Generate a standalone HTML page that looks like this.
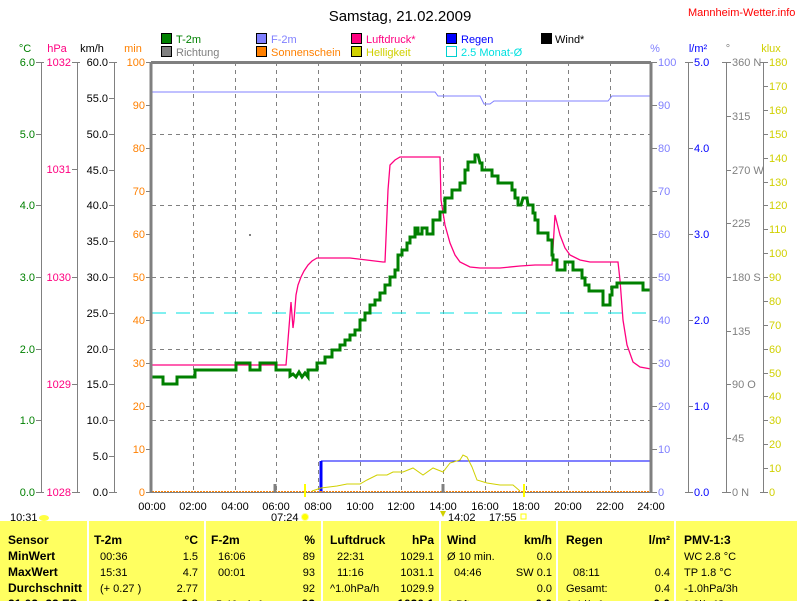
<!DOCTYPE html>
<html><head><meta charset="utf-8"><style>
html,body{margin:0;padding:0;background:#fff;}
svg{display:block;font-family:"Liberation Sans",sans-serif;}
.t{font-size:11px;}
.b{font-size:12px;font-weight:bold;}
</style></head><body>
<svg width="800" height="601" viewBox="0 0 800 601" xmlns="http://www.w3.org/2000/svg">
<text x="400" y="21" font-size="15" text-anchor="middle">Samstag, 21.02.2009</text>
<text x="688" y="16" font-size="11" fill="#f00">Mannheim-Wetter.info</text>
<!-- legend -->
<g class="t">
<rect x="161.5" y="33.5" width="10" height="10" fill="#008000" stroke="#000"/><text x="176" y="43" fill="#008000">T-2m</text>
<rect x="161.5" y="46.5" width="10" height="10" fill="#808080" stroke="#000"/><text x="176" y="56" fill="#808080">Richtung</text>
<rect x="256.5" y="33.5" width="10" height="10" fill="#8080ff" stroke="#000"/><text x="271" y="43" fill="#8080ff">F-2m</text>
<rect x="256.5" y="46.5" width="10" height="10" fill="#ff8000" stroke="#000"/><text x="271" y="56" fill="#ff8000">Sonnenschein</text>
<rect x="351.5" y="33.5" width="10" height="10" fill="#ff0080" stroke="#000"/><text x="366" y="43" fill="#ff0080">Luftdruck*</text>
<rect x="351.5" y="46.5" width="10" height="10" fill="#d0d000" stroke="#000"/><text x="366" y="56" fill="#d0d000">Helligkeit</text>
<rect x="446.5" y="33.5" width="10" height="10" fill="#0000ff" stroke="#000"/><text x="461" y="43" fill="#0000ff">Regen</text>
<rect x="446.5" y="46.5" width="10" height="10" fill="none" stroke="#00d0d0"/><text x="461" y="56" fill="#00e0e0">2.5 Monat-Ø</text>
<rect x="541.5" y="33.5" width="10" height="10" fill="#000" stroke="#000"/><text x="555" y="43" fill="#000">Wind*</text>
</g>
<!-- axis titles -->
<g class="t">
<text x="25" y="52" text-anchor="middle" fill="#008000">°C</text>
<text x="57" y="52" text-anchor="middle" fill="#ff0080">hPa</text>
<text x="92" y="52" text-anchor="middle">km/h</text>
<text x="133" y="52" text-anchor="middle" fill="#ff8000">min</text>
<text x="655" y="52" text-anchor="middle" fill="#8080ff">%</text>
<text x="698" y="52" text-anchor="middle" fill="#0000ff">l/m²</text>
<text x="728" y="52" text-anchor="middle" fill="#808080">°</text>
<text x="771" y="52" text-anchor="middle" fill="#d0d000">klux</text>
</g>
<!-- grid -->
<g stroke="#808080" stroke-dasharray="4,4" stroke-width="1">
<path d="M193.5 62V492M235.5 62V492M276.5 62V492M318.5 62V492M360.5 62V492M401.5 62V492M443.5 62V492M485.5 62V492M526.5 62V492M568.5 62V492M610.5 62V492"/>
<path d="M152 134.5H651M152 205.5H651M152 277.5H651M152 349.5H651M152 420.5H651"/>
</g>
<!-- axis lines -->
<g stroke="#808080" fill="none">
<path d="M41.5 62V492M77.5 62V492M114.5 62V492M688.5 62V492M726.5 62V492M763.5 62V492"/>
<path d="M36 62.5H44M36 134.5H41M36 205.5H41M36 277.5H41M36 349.5H41M36 420.5H41M36 492.5H44"/>
<path d="M72 62.5H80M72 169.5H77M72 277.5H77M72 384.5H77M72 492.5H80"/>
<path d="M109 62.5H117M109 98.5H114M109 134.5H114M109 170.5H114M109 205.5H114M109 241.5H114M109 277.5H114M109 313.5H114M109 349.5H114M109 384.5H114M109 420.5H114M109 456.5H114M109 492.5H117"/>
<path d="M146 62.5H152M146 105.5H152M146 148.5H152M146 191.5H152M146 234.5H152M146 277.5H152M146 320.5H152M146 363.5H152M146 406.5H152M146 449.5H152M146 492.5H152"/>
<path d="M651 62.5H657M651 105.5H657M651 148.5H657M651 191.5H657M651 234.5H657M651 277.5H657M651 320.5H657M651 363.5H657M651 406.5H657M651 449.5H657M651 492.5H657"/>
<path d="M685 62.5H693M688 148.5H693M688 234.5H693M688 320.5H693M688 406.5H693M685 492.5H693"/>
<path d="M722 62.5H731M726 116.5H731M726 170.5H731M726 223.5H731M726 277.5H731M726 331.5H731M726 384.5H731M726 438.5H731M722 492.5H731"/>
<path d="M760 62.5H768M763 86.5H768M763 110.5H768M763 134.5H768M763 158.5H768M763 182.5H768M763 205.5H768M763 229.5H768M763 253.5H768M763 277.5H768M763 301.5H768M763 325.5H768M763 349.5H768M763 373.5H768M763 396.5H768M763 420.5H768M763 444.5H768M763 468.5H768M760 492.5H768"/>
</g>
<!-- tick labels -->
<g class="t" text-anchor="end">
<g fill="#008000"><text x="35" y="66">6.0</text><text x="35" y="138">5.0</text><text x="35" y="209">4.0</text><text x="35" y="281">3.0</text><text x="35" y="353">2.0</text><text x="35" y="424">1.0</text><text x="35" y="496">0.0</text></g>
<g fill="#ff0080"><text x="71" y="66">1032</text><text x="71" y="173">1031</text><text x="71" y="281">1030</text><text x="71" y="388">1029</text><text x="71" y="496">1028</text></g>
<g fill="#000"><text x="108" y="66">60.0</text><text x="108" y="102">55.0</text><text x="108" y="138">50.0</text><text x="108" y="174">45.0</text><text x="108" y="209">40.0</text><text x="108" y="245">35.0</text><text x="108" y="281">30.0</text><text x="108" y="317">25.0</text><text x="108" y="353">20.0</text><text x="108" y="388">15.0</text><text x="108" y="424">10.0</text><text x="108" y="460">5.0</text><text x="108" y="496">0.0</text></g>
<g fill="#ff8000"><text x="145" y="66">100</text><text x="145" y="109">90</text><text x="145" y="152">80</text><text x="145" y="195">70</text><text x="145" y="238">60</text><text x="145" y="281">50</text><text x="145" y="324">40</text><text x="145" y="367">30</text><text x="145" y="410">20</text><text x="145" y="453">10</text><text x="145" y="496">0</text></g>
</g>
<g class="t">
<g fill="#8080ff"><text x="658" y="66">100</text><text x="658" y="109">90</text><text x="658" y="152">80</text><text x="658" y="195">70</text><text x="658" y="238">60</text><text x="658" y="281">50</text><text x="658" y="324">40</text><text x="658" y="367">30</text><text x="658" y="410">20</text><text x="658" y="453">10</text><text x="658" y="496">0</text></g>
<g fill="#0000ff"><text x="694" y="66">5.0</text><text x="694" y="152">4.0</text><text x="694" y="238">3.0</text><text x="694" y="324">2.0</text><text x="694" y="410">1.0</text><text x="694" y="496">0.0</text></g>
<g fill="#808080"><text x="732" y="66">360 N</text><text x="732" y="120">315</text><text x="732" y="174">270 W</text><text x="732" y="227">225</text><text x="732" y="281">180 S</text><text x="732" y="335">135</text><text x="732" y="388">90  O</text><text x="732" y="442">45</text><text x="732" y="496">0   N</text></g>
<g fill="#d0d000"><text x="769" y="66">180</text><text x="769" y="90">170</text><text x="769" y="114">160</text><text x="769" y="138">150</text><text x="769" y="162">140</text><text x="769" y="186">130</text><text x="769" y="209">120</text><text x="769" y="233">110</text><text x="769" y="257">100</text><text x="769" y="281">90</text><text x="769" y="305">80</text><text x="769" y="329">70</text><text x="769" y="353">60</text><text x="769" y="377">50</text><text x="769" y="400">40</text><text x="769" y="424">30</text><text x="769" y="448">20</text><text x="769" y="472">10</text><text x="769" y="496">0</text></g>
</g>
<!-- x labels -->
<g class="t" text-anchor="middle">
<text x="152" y="510">00:00</text><text x="193" y="510">02:00</text><text x="235" y="510">04:00</text><text x="276" y="510">06:00</text><text x="318" y="510">08:00</text><text x="360" y="510">10:00</text><text x="401" y="510">12:00</text><text x="443" y="510">14:00</text><text x="485" y="510">16:00</text><text x="526" y="510">18:00</text><text x="568" y="510">20:00</text><text x="610" y="510">22:00</text><text x="651" y="510">24:00</text>
</g>
<g class="t">
<text x="10" y="521">10:31</text><ellipse cx="44" cy="518" rx="5" ry="3" fill="#ffff40"/>
<text x="271" y="521">07:24</text><circle cx="305" cy="517" r="3.5" fill="#ffff00" stroke="#ffff90"/>
<text x="448" y="521">14:02</text><path d="M440 511l3 6 3-6z" fill="#d0d000"/>
<text x="489" y="521">17:55</text><rect x="521" y="514" width="5" height="5" fill="none" stroke="#ffff00"/>
</g>
<!-- series -->
<path d="M152 92H435L438 96H480L484 104H490L494 101H608L612 96H651" fill="none" stroke="#8080ff"/>
<path d="M152 313H651" stroke="#00e0e0" stroke-dasharray="14,10"/>
<rect x="249" y="234" width="2" height="2" fill="#808080"/>
<path d="M321 461H651" stroke="#0000ff" fill="none"/>
<path d="M321 492V461" stroke="#0000ff" stroke-width="3"/>
<path d="M152 491.5H651" stroke="#ff8000" stroke-dasharray="2,1"/>
<path d="M152 492.5H651" stroke="#808080"/>
<path d="M312 491L321 488L337 486L347 484L360 484L367 480L377 475L387 475L393 472L403 472L413 468L423 475L433 468L443 472L450 463L460 460L463 455L467 457L472 467L477 480L487 483L500 485L513 485L520 491" fill="none" stroke="#d0d000"/>
<path d="M275 484V492M443 484V492" stroke="#808080" stroke-width="3"/>
<path d="M305 484V497M524 484V497" stroke="#ffff00" stroke-width="2"/>
<path d="M152 365H286L288 340L291 302L293 328L294 320L296 295L298 285L301 277L304 271L308 265L312 261L317 258H350L383 262H385L388 190L390 165L395 160L400 157H440L441 200L445 225L450 243L455 255L460 262L470 267L480 268H500L520 266L535 265L552 265L555 215L560 235L565 248L570 255L580 260L590 262H618L620 280L623 320L627 345L633 362L640 367L651 369" fill="none" stroke="#ff0080" stroke-width="1.3"/>
<path d="M152 377H163V384H177V377H195V370H236V363H250V370H260V363H276V370H290V376L293 374L296 377L299 372L302 377L305 373L308 377V370H317V363H325V357H332V350H340V345H345V340H350V335H355V330H360V320H365V313H370V305H375V300H380V293H385V285H390V277H395V270H398V255H402V250H407V243H410V237H415V228H418V234H422V228H427V234H433V220H440V212H445V198H452V190H460V183H465V170H468V162H475V155H478L480 163H482V170H492V176H498V183H512V190H515V198H518V205H521L523 198H527L528 205H533V213H535V220H538V233H548V240H552V255H553V260H557V270H565V262H573V270H582V278H585V285H589V291H603V305H610V295H612V287H617V283H643V290H651" fill="none" stroke="#008000" stroke-width="3"/>
<!-- plot frame -->
<path d="M151 62V493M651 62V493M151 62.5H651" stroke="#808080" stroke-width="3" fill="none"/>
<!-- table -->
<rect x="0" y="521" width="797" height="80" fill="#ffff60"/>
<path d="M88 521V601M205 521V601M322 521V601M440 521V601M557 521V601M675 521V601" stroke="#fff" stroke-width="2"/>
<g class="b">
<text x="8" y="544">Sensor</text><text x="8" y="560">MinWert</text><text x="8" y="576">MaxWert</text><text x="8" y="592">Durchschnitt</text><text x="8" y="608">21.02.-22 FS</text>
<text x="94" y="544">T-2m</text><text x="198" y="544" text-anchor="end">°C</text>
<text x="211" y="544">F-2m</text><text x="315" y="544" text-anchor="end">%</text>
<text x="330" y="544">Luftdruck</text><text x="434" y="544" text-anchor="end">hPa</text>
<text x="447" y="544">Wind</text><text x="552" y="544" text-anchor="end">km/h</text>
<text x="566" y="544">Regen</text><text x="670" y="544" text-anchor="end">l/m²</text>
<text x="684" y="544">PMV-1:3</text>
<text x="198" y="608" text-anchor="end">2.8</text><text x="315" y="608" text-anchor="end">92</text><text x="434" y="608" text-anchor="end">1030.1</text><text x="552" y="608" text-anchor="end">0.0</text><text x="670" y="608" text-anchor="end">0.0</text>
</g>
<g class="t">
<text x="100" y="560">00:36</text><text x="198" y="560" text-anchor="end">1.5</text>
<text x="100" y="576">15:31</text><text x="198" y="576" text-anchor="end">4.7</text>
<text x="100" y="592">(+ 0.27 )</text><text x="198" y="592" text-anchor="end">2.77</text>
<text x="218" y="560">16:06</text><text x="315" y="560" text-anchor="end">89</text>
<text x="218" y="576">00:01</text><text x="315" y="576" text-anchor="end">93</text>
<text x="315" y="592" text-anchor="end">92</text>
<text x="216" y="608">5.46 g/m³</text>
<text x="337" y="560">22:31</text><text x="434" y="560" text-anchor="end">1029.1</text>
<text x="337" y="576">11:16</text><text x="434" y="576" text-anchor="end">1031.1</text>
<text x="330" y="592">^1.0hPa/h</text><text x="434" y="592" text-anchor="end">1029.9</text>
<text x="447" y="560">Ø 10 min.</text><text x="552" y="560" text-anchor="end">0.0</text>
<text x="454" y="576">04:46</text><text x="552" y="576" text-anchor="end">SW 0.1</text>
<text x="552" y="592" text-anchor="end">0.0</text>
<text x="447" y="608">0 Bft</text>
<text x="573" y="576">08:11</text><text x="670" y="576" text-anchor="end">0.4</text>
<text x="566" y="592">Gesamt:</text><text x="670" y="592" text-anchor="end">0.4</text>
<text x="566" y="608">0.4 l/m²</text>
<text x="684" y="560">WC 2.8 °C</text>
<text x="684" y="576">TP 1.8 °C</text>
<text x="684" y="592">-1.0hPa/3h</text>
<text x="684" y="608">0.0l/m²/h</text>
</g>
</svg>
</body></html>
